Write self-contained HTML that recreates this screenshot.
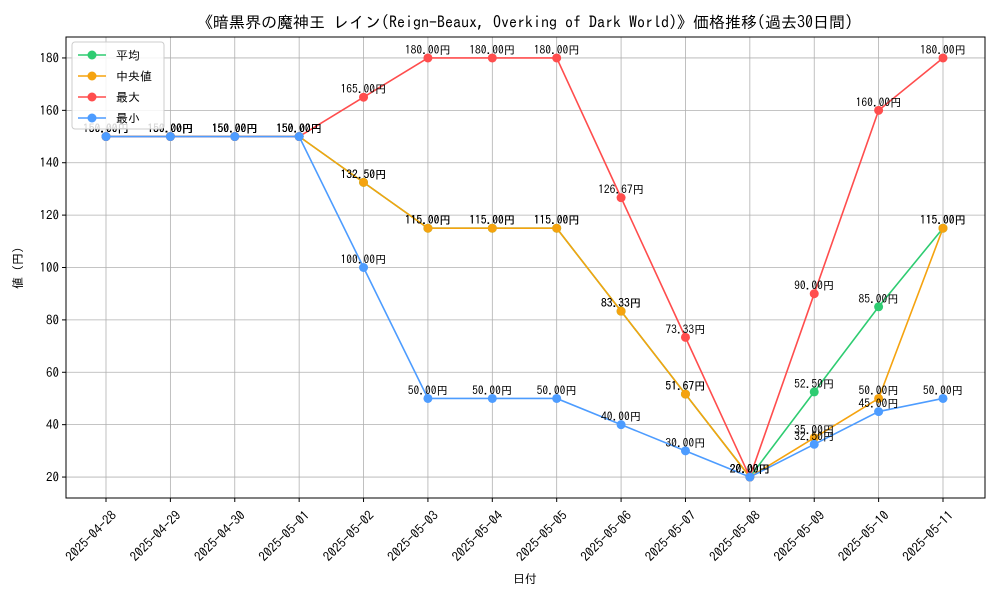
<!DOCTYPE html>
<html><head><meta charset="utf-8">
<style>
body{margin:0;background:#fff;}
svg text{font-family:"IPAGothic","Liberation Sans","Noto Sans CJK JP",sans-serif;}
</style></head>
<body>
<svg id="chart" width="1000" height="600" xmlns="http://www.w3.org/2000/svg">
<rect width="1000" height="600" fill="#fff"/>
<text x="525" y="28" text-anchor="middle" font-size="16" fill="#000">《暗黒界の魔神王 レイン(Reign-Beaux, Overking of Dark World)》価格推移(過去30日間)</text>
<g id="grid"></g>
<g id="axes"></g>
<g id="series"></g>
<g id="labels"></g>
<text x="525" y="583" text-anchor="middle" font-size="12">日付</text>
<text transform="translate(22,268) rotate(-90)" text-anchor="middle" font-size="12">値 (円)</text>
<g id="legend"></g>
</svg>
<script>
const categories=["2025-04-28","2025-04-29","2025-04-30","2025-05-01","2025-05-02","2025-05-03","2025-05-04","2025-05-05","2025-05-06","2025-05-07","2025-05-08","2025-05-09","2025-05-10","2025-05-11"];
const meanValues=[150,150,150,150,132.5,115,115,115,83.33,51.67,20,52.5,85,115];
const medianValues=[150,150,150,150,132.5,115,115,115,83.33,51.67,20,35,50,115];
const maxValues=[150,150,150,150,165,180,180,180,126.67,73.33,20,90,160,180];
const minValues=[150,150,150,150,100,50,50,50,40,30,20,32.5,45,50];
const yTicks=[20,40,60,80,100,120,140,160,180];
const seriesNames=["平均","中央値","最大","最小"];

const NS="http://www.w3.org/2000/svg";
const L=66,R=985,T=37,B=498,yMin=12,yMax=188;
const x=i=>106+i*(943-106)/(categories.length-1);
const y=v=>B-(v-yMin)/(yMax-yMin)*(B-T);
function mk(tag,attrs,parent){const e=document.createElementNS(NS,tag);for(const k in attrs)e.setAttribute(k,attrs[k]);parent.appendChild(e);return e;}
const grid=document.getElementById('grid'),axes=document.getElementById('axes'),ser=document.getElementById('series'),lab=document.getElementById('labels'),leg=document.getElementById('legend');
categories.forEach((c,i)=>{
 const g=mk('line',{x1:x(i),x2:x(i),y1:T,y2:B,stroke:'#b0b0b0','stroke-width':0.8},grid);
 
 
 mk('line',{x1:x(i),x2:x(i),y1:B,y2:B+4,stroke:'#000'},axes);
 const t=mk('text',{transform:`translate(${x(i)+5},${B+12}) rotate(-45)`,'text-anchor':'end','font-size':13,'dominant-baseline':'hanging'},axes);
 t.textContent=c;
 
 
});
yTicks.forEach(v=>{
 const g=mk('line',{x1:L,x2:R,y1:y(v),y2:y(v),stroke:'#b0b0b0','stroke-width':0.8},grid);
 
 
 mk('line',{x1:L-4,x2:L,y1:y(v),y2:y(v),stroke:'#000'},axes);
 const t=mk('text',{x:L-7,y:y(v)+4.5,'text-anchor':'end','font-size':13},axes);
 t.textContent=v;
 
 
});
const frame=mk('rect',{x:L,y:T,width:R-L,height:B-T,fill:'none',stroke:'#000','stroke-width':1},axes);


const all=[[meanValues,'#2ecc71','mean'],[medianValues,'#f5a30f','median'],[maxValues,'#ff4d4d','max'],[minValues,'#4d9cff','min']];
all.forEach(([vals,col,nm])=>{
 const p=mk('polyline',{points:vals.map((v,i)=>x(i)+','+y(v)).join(' '),fill:'none',stroke:col,'stroke-width':1.6},ser);
 
 
 vals.forEach((v,i)=>{
  const c=mk('circle',{cx:x(i),cy:y(v),r:4.5,fill:col},ser);
  
  
  const t=mk('text',{x:x(i),y:y(v)-4,'text-anchor':'middle','font-size':11.5,fill:'#000'},lab);
  t.textContent=v.toFixed(2)+'円';
  
  
 });
});
mk('rect',{x:72,y:42,width:92,height:87,rx:3,fill:'#fff','fill-opacity':0.85,stroke:'#ccc'},leg);
all.forEach(([v,col,nm],k)=>{
 const yy=55+k*21;
 const g=mk('g',{},leg);
 
 
 mk('line',{x1:78,x2:106,y1:yy,y2:yy,stroke:col,'stroke-width':1.6},g);
 mk('circle',{cx:92,cy:yy,r:4.5,fill:col},g);
 const t=mk('text',{x:116,y:yy+4.5,'font-size':12},g);
 t.textContent=seriesNames[k];
});
</script>
</body></html>
